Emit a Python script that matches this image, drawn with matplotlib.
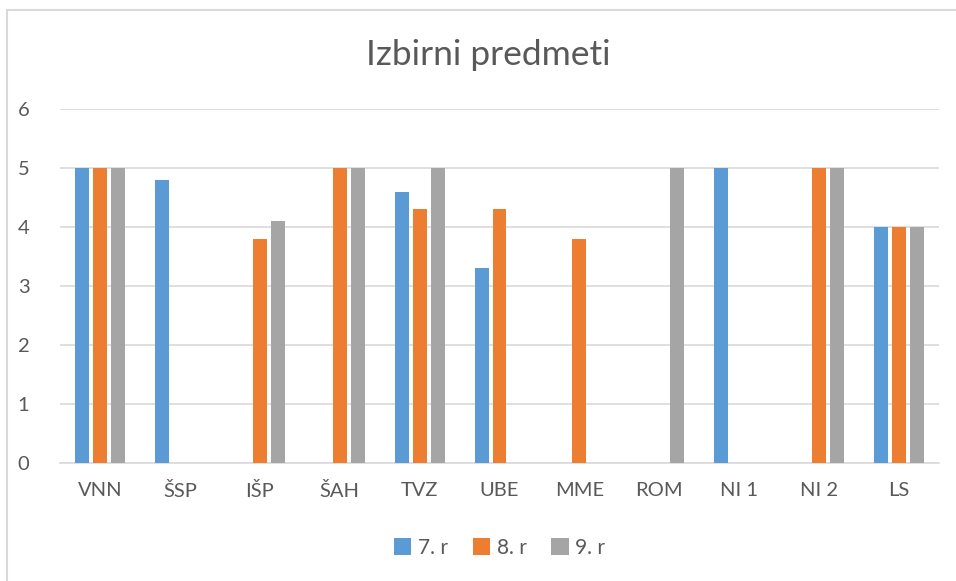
import numpy as np
import matplotlib
matplotlib.use('Agg')
import matplotlib.pyplot as plt
from matplotlib.patches import Rectangle

# Data
categories = ["VNN", "ŠSP", "IŠP", "ŠAH", "TVZ", "UBE", "MME", "ROM", "NI 1", "NI 2", "LS"]
r7 = [5, 4.8, 0, 0, 4.6, 3.3, 0, 0, 5, 0, 4]
r8 = [5, 0, 3.8, 5, 4.3, 4.3, 3.8, 0, 0, 5, 4]
r9 = [5, 0, 4.1, 5, 5, 0, 0, 5, 0, 5, 4]
series_names = ["7. r", "8. r", "9. r"]
colors = ["#5B9BD5", "#ED7D31", "#A5A5A5"]

plt.rcParams["font.family"] = ["Lato", "DejaVu Sans"]
text_color = "#595959"

fig = plt.figure(figsize=(9.56, 5.81), dpi=100)
ax = fig.add_axes([60/956, 1 - 463/581, 879/956, 354/581])

# - Chart border
fig.patches.append(Rectangle((7/956, -0.05), 1.2, 1 - 10/581 + 0.05,
                             transform=fig.transFigure, fill=False,
                             edgecolor="#D9D9D9", linewidth=1.5))

x = np.arange(len(categories))
width = 0.175
step = 0.225
for i, (vals, name) in enumerate(zip([r7, r8, r9], series_names)):
    ax.bar(x + (i - 1) * step, vals, width, color=colors[i], label=name, zorder=3)

ax.set_xlim(-0.5, len(categories) - 0.5)
ax.set_ylim(0, 6)
ax.set_yticks(range(0, 7))
ax.set_xticks(x)
ax.set_xticklabels(categories)
ax.grid(True, axis="y", color="#D9D9D9", linewidth=1.2, zorder=0)
for s in ["top", "right", "left"]:
    ax.spines[s].set_visible(False)
ax.spines["bottom"].set_color("#D9D9D9")
ax.spines["bottom"].set_linewidth(1.2)
ax.tick_params(axis="both", length=0, labelsize=14.5, labelcolor=text_color)
ax.tick_params(axis="x", pad=14)
ax.tick_params(axis="y", pad=22)

fig.text(488/956, 1 - 55/581, "Izbirni predmeti", ha="center", va="center",
         fontsize=25.5, color=text_color)

ax.legend(loc="center", bbox_to_anchor=(0.5, -0.24), ncol=3, frameon=False,
          fontsize=15, labelcolor=text_color, handlelength=0.85, handleheight=0.85,
          handletextpad=0.3, columnspacing=1.2)

fig.savefig("out.png", dpi=100)
